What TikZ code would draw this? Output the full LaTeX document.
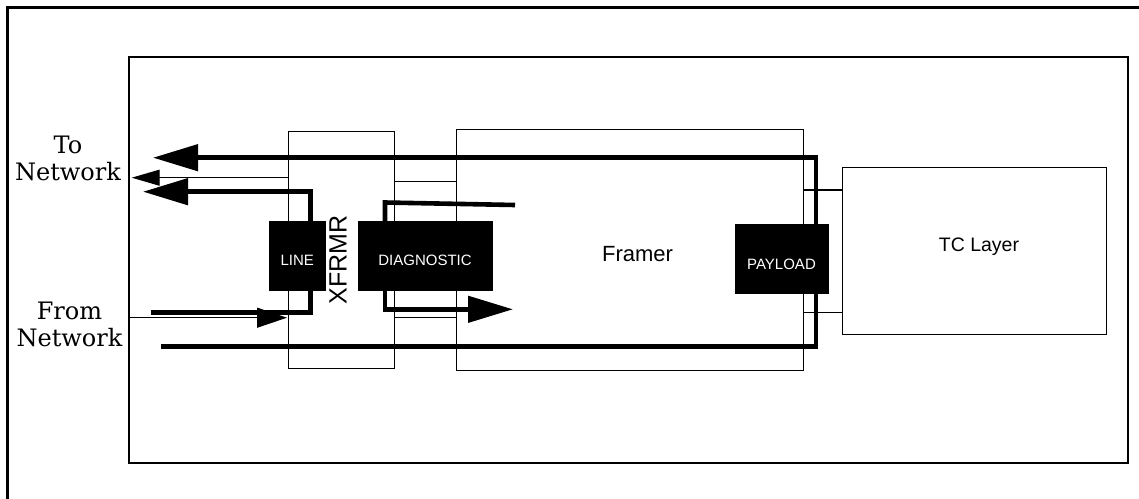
\documentclass[tikz,border=0pt]{standalone}
\usepackage{fontspec}
\setmainfont{Liberation Sans}
\newfontfamily\labserif{DejaVu Serif}
\usetikzlibrary{arrows.meta}
\begin{document}
\begin{tikzpicture}[x=1pt,y=-1pt,
  box/.style={draw,line width=1pt,rectangle,inner sep=0pt,outer sep=0pt},
  blk/.style={fill=black,draw=none,rectangle,inner sep=0pt,outer sep=0pt},
  wtext/.style={text=white,font={\fontsize{15pt}{17pt}\selectfont},inner sep=0pt,anchor=base},
  btext/.style={text=black,font={\fontsize{22pt}{24pt}\selectfont},inner sep=0pt,anchor=base},
  serlab/.style={font={\labserif\fontsize{24pt}{26.5pt}\selectfont},align=center,inner sep=0pt,anchor=base},
  thk/.style={line width=4.6pt,line join=miter},
  thn/.style={line width=1.1pt},
  bighead/.style={-{Triangle[length=45pt,width=26pt]}},
  smallhead/.style={-{Triangle[length=28pt,width=16pt]}},
  inhead/.style={-{Triangle[length=30pt,width=20pt]}}
]
\useasboundingbox (0,0) rectangle (1139,498);
\begin{scope}
\clip (0,0) rectangle (1139,498);
\draw[line width=2.2pt] (7.5,7.5) rectangle (1170,530);
\end{scope}
% inner frame
\node[box,line width=2pt,minimum width=999pt,minimum height=406pt] (inner) at (628.5,260) {};
% boxes
\node[box,minimum width=106pt,minimum height=236.3pt] (xfrmr) at (341,249.85) {};
\node[box,minimum width=346.6pt,minimum height=241.2pt] (framer) at (630,249.9) {};
\node[box,minimum width=264pt,minimum height=167pt] (tc) at (974,250.5) {};
% thin links
\draw[thn] (xfrmr.east |- 0,181.7) -- (framer.west |- 0,181.7);
\draw[thn] (xfrmr.east |- 0,317.7) -- (framer.west |- 0,317.7);
\draw[thn,line width=1.4pt] (framer.east |- 0,190) -- (tc.west |- 0,190);
\draw[thn,line width=1.4pt] (framer.east |- 0,312.3) -- (tc.west |- 0,312.3);
% named coordinates
\coordinate (loopS) at (161,346.7);
\coordinate (loopE) at (153,157.7);
\coordinate (lineOut) at (143,191.7);
\coordinate (thinOut) at (131.7,177.7);
\coordinate (netIn) at (150.7,312.7);
\coordinate (thinInEnd) at (287,317.7);
\coordinate (diagTopEnd) at (515,205);
\coordinate (diagOut) at (513,309.3);
% black blocks
\node[blk,minimum width=56.7pt,minimum height=69.7pt] (line) at (297.35,255.85) {};
\node[blk,minimum width=135pt,minimum height=69.7pt] (diag) at (425.2,255.85) {};
% connectors
\draw[thk,bighead] (loopS) -- (816,346.7) -- (816,157.7) -- (loopE);
\draw[thk,bighead] (line.north -| 310.7,0) -- (310.7,191.7) -- (lineOut);
\draw[thn,smallhead] (xfrmr.west |- thinOut) -- (thinOut);
\draw[thn,inhead] (inner.west |- thinInEnd) -- (thinInEnd);
\draw[thk] (netIn) -- (310.7,312.7) -- (line.south -| 310.7,0);
\draw[thk] (diag.north -| 385,0) -- (385,202.5) -- (diagTopEnd);
\draw[thk,bighead] (diag.south -| 385,0) -- (385,309.3) -- (diagOut);
% payload on top
\node[blk,minimum width=93.7pt,minimum height=70pt] (payload) at (781.85,259) {};
% texts
\node[wtext] (linet) at (297.3,265.7) {LINE};
\node[wtext] (diagt) at (425,265.7) {DIAGNOSTIC};
\node[wtext] (payt) at (781.5,269.3) {PAYLOAD};
\node[btext] (framert) at (637.5,261.7) {Framer};
\node[btext,font={\fontsize{19.5pt}{22pt}\selectfont}] (tct) at (979,251.7) {TC Layer};
\node[inner sep=0pt,anchor=base,rotate=90,font={\fontsize{25pt}{27pt}\selectfont}] (xfrmrt) at (346.7,260) {XFRMR};
\node[serlab] (tonet) at (68,180) {To\\Network};
\node[serlab] (fromnet) at (69.5,346) {From\\Network};
\end{tikzpicture}
\end{document}
